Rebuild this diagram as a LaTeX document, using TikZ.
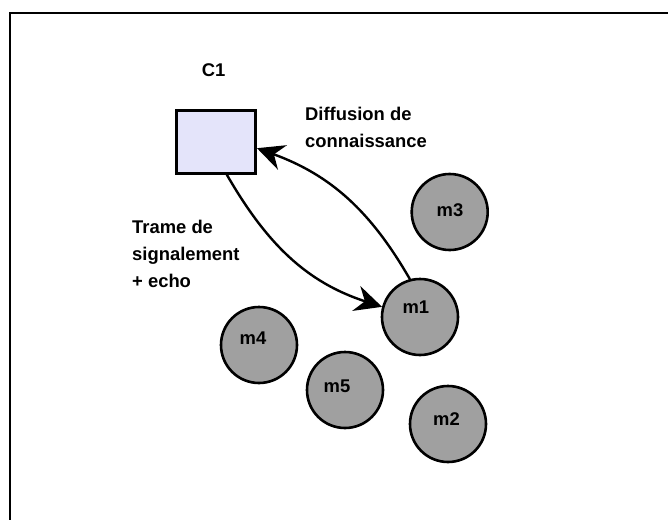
\documentclass[tikz,border=0pt]{standalone}
\usepackage{fontspec}
\setmainfont{Liberation Sans}
\usetikzlibrary{arrows.meta}
\definecolor{boxfill}{RGB}{228,228,250}
\definecolor{mgray}{RGB}{160,160,160}
\begin{document}
\begin{tikzpicture}[x=1pt,y=-1pt,
  txt/.style={font=\bfseries\fontsize{18.4}{27}\selectfont, inner sep=0pt},
  mnode/.style={circle, draw=black, line width=2.6pt, fill=mgray, minimum size=76pt, inner sep=0pt},
  mlab/.style={txt},
  ctrl/.style={rectangle, draw=black, line width=2.6pt, fill=boxfill, minimum width=79pt, minimum height=63pt, inner sep=0pt},
  link/.style={line width=2.4pt, -{Stealth[length=27pt,width=26pt,inset=9pt]}}
]
\useasboundingbox (0,0) rectangle (668,519);
% frame
\draw[line width=2.8pt] (10,522) -- (10,13) -- (672,13);

\node[ctrl] (c1) at (216.2,141.7) {};
\node[txt] (c1lab) at (213.7,70.3) {C1};

\node[mnode] (m1) at (420,317) {};
\node[mnode] (m2) at (448,424) {};
\node[mnode] (m3) at (449.7,212) {};
\node[mnode] (m4) at (259,345) {};
\node[mnode] (m5) at (345,390) {};

\node[mlab] at (415.8,307.5) {m1};
\node[mlab] at (446.5,419) {m2};
\node[mlab] at (450,210) {m3};
\node[mlab] at (253,338) {m4};
\node[mlab] at (337,386.5) {m5};

\node[txt, align=left, anchor=north west] (diff) at (305,106.5) {Diffusion de\\connaissance};
\node[txt, align=left, anchor=north west] (trame) at (132,219.5) {Trame de\\signalement\\+ echo};

\draw[link] ([xshift=10.5pt]c1.south) to[out=-60, in=162] (m1.165);
\draw[link] (m1.105) to[out=120, in=-20] ([yshift=-6.5pt]c1.east);
\end{tikzpicture}
\end{document}
